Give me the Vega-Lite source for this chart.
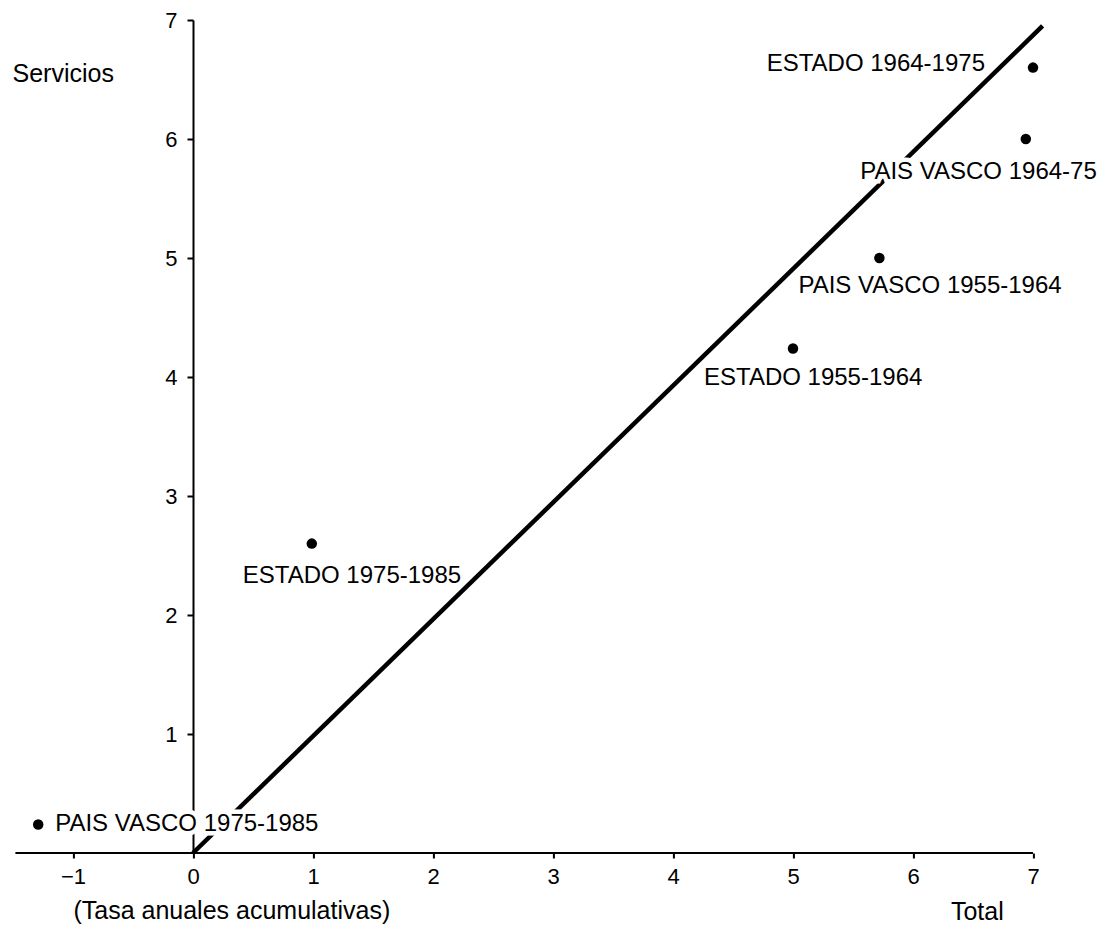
{
  "$schema": "https://vega.github.io/schema/vega-lite/v6.json",
  "width": 1017.6,
  "height": 833,
  "autosize": {"type": "none"},
  "padding": {"left": 15.4, "top": 20, "right": 73, "bottom": 73},
  "background": "white",
  "config": {
    "view": {"stroke": null},
    "font": "Liberation Sans",
    "axis": {"grid": false, "labelFont": "Liberation Sans", "titleFont": "Liberation Sans", "labelColor": "black", "titleColor": "black", "tickColor": "black", "domainColor": "black", "titleFontWeight": "normal"}
  },
  "title": {
    "text": "(Tasa anuales acumulativas)",
    "orient": "bottom",
    "anchor": "start",
    "frame": "group",
    "dx": 58,
    "offset": -25,
    "fontSize": 25,
    "fontWeight": "normal",
    "font": "Liberation Sans",
    "color": "black"
  },
  "datasets": {
    "points": [
      {"x": -1.29, "y": 0.24, "label": "PAIS VASCO 1975-1985"},
      {"x": 0.99, "y": 2.6, "label": "ESTADO 1975-1985"},
      {"x": 5.0, "y": 4.24, "label": "ESTADO 1955-1964"},
      {"x": 5.72, "y": 5.0, "label": "PAIS VASCO 1955-1964"},
      {"x": 6.94, "y": 6.0, "label": "PAIS VASCO 1964-75"},
      {"x": 7.0, "y": 6.6, "label": "ESTADO 1964-1975"}
    ],
    "fit": [
      {"x": 0.0, "y": 0.0},
      {"x": 7.08, "y": 6.95}
    ],
    "xaxis": [
      {"x": -1.48, "x2": 7.0, "y": 0}
    ]
  },
  "encoding": {
    "x": {
      "field": "x", "type": "quantitative",
      "scale": {"domain": [-1.48, 7], "nice": false, "zero": false},
      "axis": {
        "values": [-1, 0, 1, 2, 3, 4, 5, 6, 7],
        "domain": false, "ticks": true, "tickSize": 5, "tickWidth": 2,
        "labelPadding": 8, "labelFontSize": 22, "labelFlush": false, "labelOverlap": false,
        "title": "Total", "titleFontSize": 25, "titleX": 935, "titleY": 58,
        "titleAlign": "left", "titleBaseline": "middle", "titleAnchor": null
      }
    },
    "y": {
      "field": "y", "type": "quantitative",
      "scale": {"domain": [0, 7], "nice": false, "zero": false},
      "axis": {
        "values": [1, 2, 3, 4, 5, 6, 7],
        "offset": -177.6, "domain": true, "domainWidth": 2,
        "tickSize": 6, "tickWidth": 2, "labelPadding": 10, "labelFontSize": 22,
        "labelFlush": false, "labelOverlap": false,
        "title": "Servicios", "titleFontSize": 25, "titleAngle": 0,
        "titleX": -181, "titleY": 53, "titleAlign": "left", "titleBaseline": "middle", "titleAnchor": null
      }
    }
  },
  "layer": [
    {
      "data": {"name": "xaxis"},
      "mark": {"type": "rule", "color": "black", "strokeWidth": 2},
      "encoding": {"x2": {"field": "x2"}}
    },
    {
      "data": {"name": "fit"},
      "mark": {"type": "line", "color": "black", "strokeWidth": 4.5},
      "encoding": {}
    },
    {
      "data": {"name": "points"},
      "transform": [{"filter": "datum.label == 'PAIS VASCO 1975-1985'"}],
      "mark": {"type": "text", "align": "left", "baseline": "middle", "dx": 17, "dy": 0, "fontSize": 24, "stroke": "white", "strokeWidth": 9, "fill": "white"},
      "encoding": {"text": {"field": "label"}}
    },
    {
      "data": {"name": "points"},
      "transform": [{"filter": "datum.label == 'PAIS VASCO 1964-75'"}],
      "mark": {"type": "text", "align": "right", "baseline": "middle", "dx": 71, "dy": 33, "fontSize": 24, "stroke": "white", "strokeWidth": 9, "fill": "white"},
      "encoding": {"text": {"field": "label"}}
    },
    {
      "data": {"name": "points"},
      "transform": [{"filter": "datum.label == 'PAIS VASCO 1975-1985'"}],
      "mark": {"type": "text", "align": "left", "baseline": "middle", "dx": 17, "dy": 0, "fontSize": 24, "color": "black"},
      "encoding": {"text": {"field": "label"}}
    },
    {
      "data": {"name": "points"},
      "transform": [{"filter": "datum.label == 'ESTADO 1975-1985'"}],
      "mark": {"type": "text", "align": "left", "baseline": "middle", "dx": -69, "dy": 32, "fontSize": 24, "color": "black"},
      "encoding": {"text": {"field": "label"}}
    },
    {
      "data": {"name": "points"},
      "transform": [{"filter": "datum.label == 'ESTADO 1955-1964'"}],
      "mark": {"type": "text", "align": "left", "baseline": "middle", "dx": -89, "dy": 30, "fontSize": 24, "color": "black"},
      "encoding": {"text": {"field": "label"}}
    },
    {
      "data": {"name": "points"},
      "transform": [{"filter": "datum.label == 'PAIS VASCO 1955-1964'"}],
      "mark": {"type": "text", "align": "left", "baseline": "middle", "dx": -81, "dy": 28, "fontSize": 24, "color": "black"},
      "encoding": {"text": {"field": "label"}}
    },
    {
      "data": {"name": "points"},
      "transform": [{"filter": "datum.label == 'PAIS VASCO 1964-75'"}],
      "mark": {"type": "text", "align": "right", "baseline": "middle", "dx": 71, "dy": 33, "fontSize": 24, "color": "black"},
      "encoding": {"text": {"field": "label"}}
    },
    {
      "data": {"name": "points"},
      "transform": [{"filter": "datum.label == 'ESTADO 1964-1975'"}],
      "mark": {"type": "text", "align": "right", "baseline": "middle", "dx": -48, "dy": -4, "fontSize": 24, "color": "black"},
      "encoding": {"text": {"field": "label"}}
    },
    {
      "data": {"name": "points"},
      "mark": {"type": "point", "shape": "circle", "filled": true, "size": 110, "color": "black", "opacity": 1},
      "encoding": {}
    }
  ]
}
